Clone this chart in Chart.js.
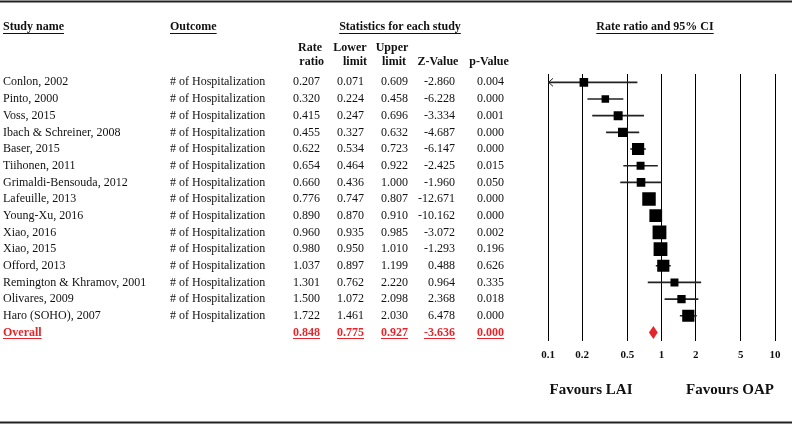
<!DOCTYPE html>
<html>
<head>
<meta charset="utf-8">
<script src="https://cdn.jsdelivr.net/npm/chart.js@4"></script>
<style>
  html, body { margin: 0; padding: 0; background: #fff; }
  canvas { display: block; }
</style>
</head>
<body>
<canvas id="forest" width="792" height="425"></canvas>
<script>
// ─── Data ─────────────────────────────────────────────────────
const studies = [
  'Conlon, 2002', 'Pinto, 2000', 'Voss, 2015', 'Ibach & Schreiner, 2008',
  'Baser, 2015', 'Tiihonen, 2011', 'Grimaldi-Bensouda, 2012', 'Lafeuille, 2013',
  'Young-Xu, 2016', 'Xiao, 2016', 'Xiao, 2015', 'Offord, 2013',
  'Remington & Khramov, 2001', 'Olivares, 2009', 'Haro (SOHO), 2007'
];
const outcomes = studies.map(() => '# of Hospitalization');
const rateRatio  = [0.207, 0.320, 0.415, 0.455, 0.622, 0.654, 0.660, 0.776, 0.890, 0.960, 0.980, 1.037, 1.301, 1.500, 1.722];
const lowerLimit = [0.071, 0.224, 0.247, 0.327, 0.534, 0.464, 0.436, 0.747, 0.870, 0.935, 0.950, 0.897, 0.762, 1.072, 1.461];
const upperLimit = [0.609, 0.458, 0.696, 0.632, 0.723, 0.922, 1.000, 0.807, 0.910, 0.985, 1.010, 1.199, 2.220, 2.098, 2.030];
const zValue     = [-2.860, -6.228, -3.334, -4.687, -6.147, -2.425, -1.960, -12.671, -10.162, -3.072, -1.293, 0.488, 0.964, 2.368, 6.478];
const pValue     = [0.004, 0.000, 0.001, 0.000, 0.000, 0.015, 0.050, 0.000, 0.000, 0.002, 0.196, 0.626, 0.335, 0.018, 0.000];
// relative weight (%) – box area is proportional to it
const weights    = [4.2, 3.2, 4.6, 5.0, 8.4, 3.6, 4.2, 10.3, 9.2, 10.8, 10.8, 8.4, 3.6, 3.9, 8.4];

const overallLabel = 'Overall';
const overallRR = 0.848;
const overallLower = 0.775;
const overallUpper = 0.927;
const overallZ = -3.636;
const overallP = 0.000;

const tickValues = [0.1, 0.2, 0.5, 1, 2, 5, 10];

// ─── Style ────────────────────────────────────────────────────
const SERIF = '"Liberation Serif", "Times New Roman", serif';
const INK = '#111';
const RED = '#e3262b';

const rowLabels = [...studies, overallLabel];

// ─── Table + decorations plugin ───────────────────────────────
function textAt(ctx, str, x, y, align, font, color, underline) {
  ctx.font = font;
  ctx.fillStyle = color;
  ctx.textAlign = align;
  ctx.textBaseline = 'middle';
  ctx.fillText(str, x, y);
  if (underline) {
    const w = ctx.measureText(str).width;
    const x0 = align === 'right' ? x - w : align === 'center' ? x - w / 2 : x;
    ctx.strokeStyle = color;
    ctx.lineWidth = 1;
    ctx.beginPath();
    ctx.moveTo(x0, Math.round(y + 6) + 0.5);
    ctx.lineTo(x0 + w, Math.round(y + 6) + 0.5);
    ctx.stroke();
  }
}

const tablePlugin = {
  id: 'forestTable',
  afterDraw(chart) {
    const ctx = chart.ctx;
    const xs = chart.scales.x;
    const ys = chart.scales.y;
    const area = chart.chartArea;
    const body = '12px ' + SERIF;
    const bold = 'bold 12px ' + SERIF;
    ctx.save();

    // frame lines top & bottom
    ctx.strokeStyle = '#222';
    ctx.lineWidth = 2;
    ctx.beginPath();
    ctx.moveTo(0, 1.5); ctx.lineTo(792, 1.5);
    ctx.moveTo(0, 422.5); ctx.lineTo(792, 422.5);
    ctx.stroke();

    // headers
    textAt(ctx, 'Study name', 3, 27, 'left', bold, INK, true);
    textAt(ctx, 'Outcome', 170, 27, 'left', bold, INK, true);
    textAt(ctx, 'Statistics for each study', 400, 27, 'center', bold, INK, true);
    textAt(ctx, 'Rate ratio and 95% CI', 655, 27, 'center', bold, INK, true);
    textAt(ctx, 'Rate', 322, 48, 'right', bold, INK);
    textAt(ctx, 'ratio', 324, 62, 'right', bold, INK);
    textAt(ctx, 'Lower', 350, 48, 'center', bold, INK);
    textAt(ctx, 'limit', 355, 62, 'center', bold, INK);
    textAt(ctx, 'Upper', 392, 48, 'center', bold, INK);
    textAt(ctx, 'limit', 394, 62, 'center', bold, INK);
    textAt(ctx, 'Z-Value', 438, 62, 'center', bold, INK);
    textAt(ctx, 'p-Value', 489, 62, 'center', bold, INK);

    // study rows
    studies.forEach((s, i) => {
      const y = ys.getPixelForValue(i);
      textAt(ctx, s, 3, y, 'left', body, INK);
      textAt(ctx, outcomes[i], 170, y, 'left', body, INK);
      textAt(ctx, rateRatio[i].toFixed(3), 320, y, 'right', body, INK);
      textAt(ctx, lowerLimit[i].toFixed(3), 364, y, 'right', body, INK);
      textAt(ctx, upperLimit[i].toFixed(3), 408, y, 'right', body, INK);
      textAt(ctx, zValue[i].toFixed(3), 455, y, 'right', body, INK);
      textAt(ctx, pValue[i].toFixed(3), 504, y, 'right', body, INK);

      // arrow when the CI runs off the left edge
      if (lowerLimit[i] < xs.min) {
        ctx.strokeStyle = '#222';
        ctx.lineWidth = 1;
        ctx.beginPath();
        ctx.moveTo(area.left + 5, y - 4);
        ctx.lineTo(area.left + 0.5, y);
        ctx.lineTo(area.left + 5, y + 4);
        ctx.stroke();
      }
    });

    // overall row
    const oy = ys.getPixelForValue(studies.length);
    textAt(ctx, overallLabel, 3, oy, 'left', bold, RED, true);
    textAt(ctx, overallRR.toFixed(3), 320, oy, 'right', bold, RED, true);
    textAt(ctx, overallLower.toFixed(3), 364, oy, 'right', bold, RED, true);
    textAt(ctx, overallUpper.toFixed(3), 408, oy, 'right', bold, RED, true);
    textAt(ctx, overallZ.toFixed(3), 455, oy, 'right', bold, RED, true);
    textAt(ctx, overallP.toFixed(3), 504, oy, 'right', bold, RED, true);

    // summary diamond
    const xl = xs.getPixelForValue(overallLower);
    const xm = xs.getPixelForValue(overallRR);
    const xr = xs.getPixelForValue(overallUpper);
    ctx.fillStyle = RED;
    ctx.beginPath();
    ctx.moveTo(xl, oy);
    ctx.lineTo(xm, oy - 6.5);
    ctx.lineTo(xr, oy);
    ctx.lineTo(xm, oy + 6.5);
    ctx.closePath();
    ctx.fill();

    // favours labels
    const fav = 'bold 15px ' + SERIF;
    textAt(ctx, 'Favours LAI', 591, 390, 'center', fav, INK);
    textAt(ctx, 'Favours OAP', 730, 390, 'center', fav, INK);

    ctx.restore();
  }
};

// ─── Chart ────────────────────────────────────────────────────
const ciData = studies.map((s, i) => [lowerLimit[i], upperLimit[i]]);
const pointData = studies.map((s, i) => ({ x: rateRatio[i], y: s }));
const boxRadius = weights.map(w => Math.sqrt(w) * 4.2 / Math.SQRT2);

new Chart(document.getElementById('forest'), {
  type: 'bar',
  data: {
    labels: rowLabels,
    datasets: [
      {
        label: 'CI',
        data: ciData,
        backgroundColor: '#222',
        barThickness: 1,
        borderWidth: 0,
        order: 2
      },
      {
        type: 'scatter',
        label: 'Rate ratio',
        data: pointData,
        pointStyle: 'rect',
        pointRadius: boxRadius,
        backgroundColor: '#000',
        borderWidth: 0,
        order: 1
      }
    ]
  },
  options: {
    indexAxis: 'y',
    responsive: false,
    animation: false,
    layout: { padding: { left: 548, right: 17, top: 74, bottom: 55 } },
    plugins: {
      legend: { display: false },
      tooltip: { enabled: false }
    },
    scales: {
      y: {
        type: 'category',
        labels: rowLabels,
        offset: true,
        display: false
      },
      x: {
        type: 'logarithmic',
        min: 0.1,
        max: 10,
        afterBuildTicks: (scale) => {
          scale.ticks = tickValues.map(v => ({ value: v }));
        },
        ticks: {
          callback: (v) => String(v),
          color: INK,
          font: { family: SERIF, size: 11, weight: 'bold' },
          padding: 8,
          maxRotation: 0,
          autoSkip: false
        },
        grid: { color: '#000', lineWidth: 1, drawTicks: false },
        border: { display: false }
      }
    }
  },
  plugins: [tablePlugin]
});
</script>
</body>
</html>
